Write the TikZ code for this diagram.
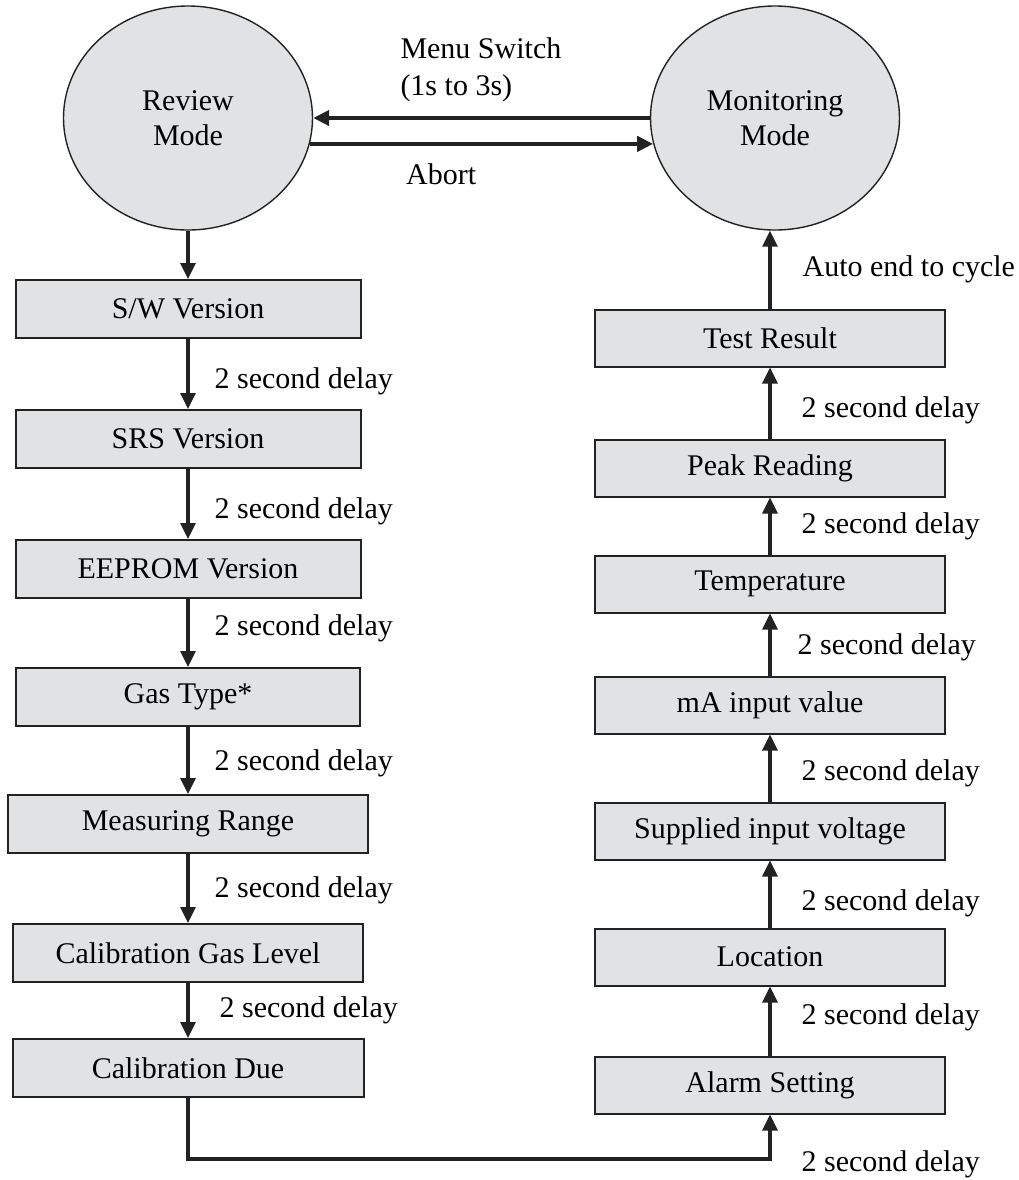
\documentclass[tikz,border=0pt]{standalone}
\usepackage{fontspec}
\setmainfont{Liberation Serif}
\usetikzlibrary{arrows.meta,positioning,shapes.geometric}
\definecolor{boxgray}{HTML}{E1E2E4}
\definecolor{edgegray}{HTML}{222222}

\begin{document}
\begin{tikzpicture}[
  x=0.5pt,y=-0.5pt,
  font=\fontsize{15}{18.5}\selectfont,
  box/.style={draw=edgegray,line width=1pt,fill=boxgray,minimum width=172.5pt,minimum height=29pt,inner sep=0pt},
  rbox/.style={box,minimum width=175pt,minimum height=28.5pt},
  modeell/.style={ellipse,draw=edgegray,line width=0.7pt,fill=boxgray,minimum width=124.5pt,minimum height=112pt,align=center,inner sep=0pt,font=\fontsize{15}{17.5}\selectfont},
  arr/.style={-{Triangle[length=8pt,width=7.5pt]},line width=1.6pt,draw=edgegray},
  bigarr/.style={arr,line width=2.3pt},
  dly/.style={anchor=west,inner sep=0pt,xshift=#1},
  dly/.default=12.5pt
]
\useasboundingbox (0,0) rectangle (1019,1180);

% the two modes
\node[modeell] (rev) at (188,118) {Review\\Mode};
\node[modeell] (mon) at (775,118) {Monitoring\\Mode};
\draw[bigarr] (mon.west) -- node[at end,anchor=south west,align=left,inner sep=0pt,xshift=42.5pt,yshift=7pt] {Menu Switch\\(1s to 3s)} (rev.east);
\draw[bigarr] (rev.-12) -- node[at start,anchor=base west,inner sep=0pt,xshift=47pt,yshift=-20.5pt] {Abort} (mon.192);

% review sequence
\node[box] (sw) at (188,309) {S/W Version};
\node[box,below=35pt of sw] (srs) {SRS Version};
\node[box,below=35pt of srs] (eeprom) {EEPROM Version};
\node[box,minimum width=172pt,below=34pt of eeprom] (gas) {Gas Type*};
\node[box,minimum width=180pt,below=33.5pt of gas] (meas) {Measuring Range};
\node[box,minimum width=175pt,below=34.5pt of meas] (calgas) {Calibration Gas Level};
\node[box,minimum width=175.5pt,below=27.5pt of calgas] (caldue) {Calibration Due};

\draw[arr] (rev) -- (sw);
\draw[arr] (sw) -- node[dly,yshift=-3.5pt] {2 second delay} (srs);
\draw[arr] (srs) -- node[dly,yshift=-3.5pt] {2 second delay} (eeprom);
\draw[arr] (eeprom) -- node[dly,yshift=2.5pt] {2 second delay} (gas);
\draw[arr] (gas) -- node[dly,yshift=-1.5pt] {2 second delay} (meas);
\draw[arr] (meas) -- node[dly,yshift=-1pt] {2 second delay} (calgas);
\draw[arr] (calgas) -- node[dly=15pt] {2 second delay} (caldue);

% monitoring sequence
\node[rbox] (test) at (770,338) {Test Result};
\node[rbox,below=35.5pt of test] (peak) {Peak Reading};
\node[rbox,below=28.5pt of peak] (temp) {Temperature};
\node[rbox,below=31pt of temp] (ma) {mA input value};
\node[rbox,below=33.5pt of ma] (supp) {Supplied input voltage};
\node[rbox,below=33.5pt of supp] (loc) {Location};
\node[rbox,below=34.5pt of loc] (alarm) {Alarm Setting};

\draw[arr] (alarm) -- node[dly=15pt,yshift=2pt] {2 second delay} (loc);
\draw[arr] (loc) -- node[dly=15pt,yshift=-4.5pt] {2 second delay} (supp);
\draw[arr] (supp) -- node[dly=15pt,yshift=-2.5pt] {2 second delay} (ma);
\draw[arr] (ma) -- node[dly=13pt,yshift=-1.5pt] {2 second delay} (temp);
\draw[arr] (temp) -- node[dly=15pt] {2 second delay} (peak);
\draw[arr] (peak) -- node[dly=15pt,yshift=-3.5pt] {2 second delay} (test);
\draw[arr] (test.north) -- node[dly=15.5pt] {Auto end to cycle} (test.north |- mon.south);

% link between the two columns
\draw[arr] (caldue.south) -- ++(0,61) -| node[pos=0.5,dly=15pt,yshift=-2.5pt] {2 second delay} (alarm.south);
\end{tikzpicture}
\end{document}
